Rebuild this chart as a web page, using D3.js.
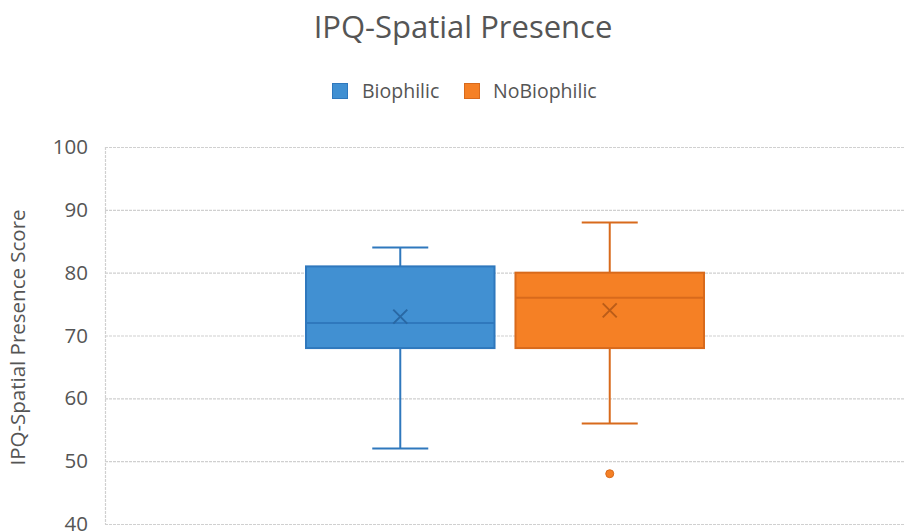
<!DOCTYPE html>
<html>
<head>
<meta charset="utf-8">
<script src="https://cdn.jsdelivr.net/npm/d3@7"></script>
<style>
  html, body { margin: 0; padding: 0; background: #fff; }
  svg { display: block; font-family: "Open Sans", "Noto Sans", sans-serif; }
</style>
</head>
<body>
<svg id="chart" width="905" height="532"></svg>
<script>
// Box-plot summary per group
const series = ["Biophilic", "NoBiophilic"];
const whiskerLow = [52, 56];
const q1 = [68, 68];
const median = [72, 76];
const q3 = [81, 80];
const whiskerHigh = [84, 88];
const mean = [73, 74];
const outliers = [[], [48]];
const yTicks = [40, 50, 60, 70, 80, 90, 100];

const fills = ["#4190d2", "#f58025"];
const strokes = ["#2f78bd", "#d86a1c"];
const textColor = "#555555";

const svg = d3.select("#chart");
const W = 905;
const margin = { left: 105, top: 147 };
const plotBottom = 524;

const y = d3.scaleLinear().domain([40, 100]).range([plotBottom, margin.top]);
const x = d3.scaleBand().domain(series).range([306, 704]).paddingInner(0.1);

// Title
svg.append("text")
  .attr("x", 463).attr("y", 38)
  .attr("text-anchor", "middle")
  .attr("font-size", 31)
  .attr("fill", textColor)
  .text("IPQ-Spatial Presence");

// Legend
const legend = svg.append("g");
const legendItems = [{ x: 332, tx: 362, label: series[0] }, { x: 464, tx: 493, label: series[1] }];
legendItems.forEach((it, i) => {
  legend.append("rect")
    .attr("x", it.x + 0.5).attr("y", 83.5)
    .attr("width", 15).attr("height", 15)
    .attr("fill", fills[i]).attr("stroke", strokes[i]);
  legend.append("text")
    .attr("x", it.tx).attr("y", 98)
    .attr("font-size", 19.5)
    .attr("fill", textColor)
    .text(it.label);
});

// Gridlines
const grid = svg.append("g")
  .attr("transform", `translate(${margin.left},0)`)
  .call(d3.axisLeft(y).tickValues(yTicks).tickSize(-(W - margin.left)).tickFormat(""));
grid.select(".domain").remove();
grid.selectAll(".tick line")
  .attr("stroke", "#d0d0d0")
  .attr("stroke-width", 1.2)
  .attr("stroke-dasharray", "3,1");

// Y axis line + labels
svg.append("line")
  .attr("x1", margin.left + 0.5).attr("x2", margin.left + 0.5)
  .attr("y1", y(100)).attr("y2", y(40))
  .attr("stroke", "#d0d0d0").attr("stroke-width", 1.2)
  .attr("stroke-dasharray", "3,1");

const yAxis = svg.append("g")
  .attr("transform", `translate(${margin.left},0)`)
  .call(d3.axisLeft(y).tickValues(yTicks).tickSize(0).tickPadding(17));
yAxis.select(".domain").remove();
yAxis.selectAll("text")
  .attr("font-size", 20.5)
  .attr("fill", textColor)
  .attr("font-family", "'Open Sans', 'Noto Sans', sans-serif");

svg.append("text")
  .attr("transform", `translate(25,${(y(100) + y(40)) / 2 + 2}) rotate(-90)`)
  .attr("text-anchor", "middle")
  .attr("font-size", 20.5)
  .attr("fill", textColor)
  .text("IPQ-Spatial Presence Score");

// Boxes
const capW = 56;
series.forEach((s, i) => {
  const g = svg.append("g");
  const x0 = x(s), bw = x.bandwidth(), cx = x0 + bw / 2;
  const col = strokes[i];

  // whiskers
  g.append("line").attr("x1", cx).attr("x2", cx)
    .attr("y1", y(q3[i])).attr("y2", y(whiskerHigh[i]))
    .attr("stroke", col).attr("stroke-width", 2);
  g.append("line").attr("x1", cx).attr("x2", cx)
    .attr("y1", y(q1[i])).attr("y2", y(whiskerLow[i]))
    .attr("stroke", col).attr("stroke-width", 2);
  [whiskerHigh[i], whiskerLow[i]].forEach(v => {
    g.append("line").attr("x1", cx - capW / 2).attr("x2", cx + capW / 2)
      .attr("y1", y(v)).attr("y2", y(v))
      .attr("stroke", col).attr("stroke-width", 2);
  });

  // box
  g.append("rect")
    .attr("x", x0).attr("y", y(q3[i]))
    .attr("width", bw).attr("height", y(q1[i]) - y(q3[i]))
    .attr("fill", fills[i]).attr("stroke", col).attr("stroke-width", 2);

  // median
  g.append("line").attr("x1", x0).attr("x2", x0 + bw)
    .attr("y1", y(median[i])).attr("y2", y(median[i]))
    .attr("stroke", col).attr("stroke-width", 2);

  // mean marker
  const my = y(mean[i]), m = 7;
  g.append("path")
    .attr("d", `M${cx - m},${my - m}L${cx + m},${my + m}M${cx - m},${my + m}L${cx + m},${my - m}`)
    .attr("stroke", d3.color(col).darker(0.4)).attr("stroke-width", 2).attr("fill", "none");

  // outliers
  outliers[i].forEach(v => {
    g.append("circle").attr("cx", cx).attr("cy", y(v)).attr("r", 4)
      .attr("fill", fills[i]).attr("stroke", col);
  });
});
</script>
</body>
</html>
